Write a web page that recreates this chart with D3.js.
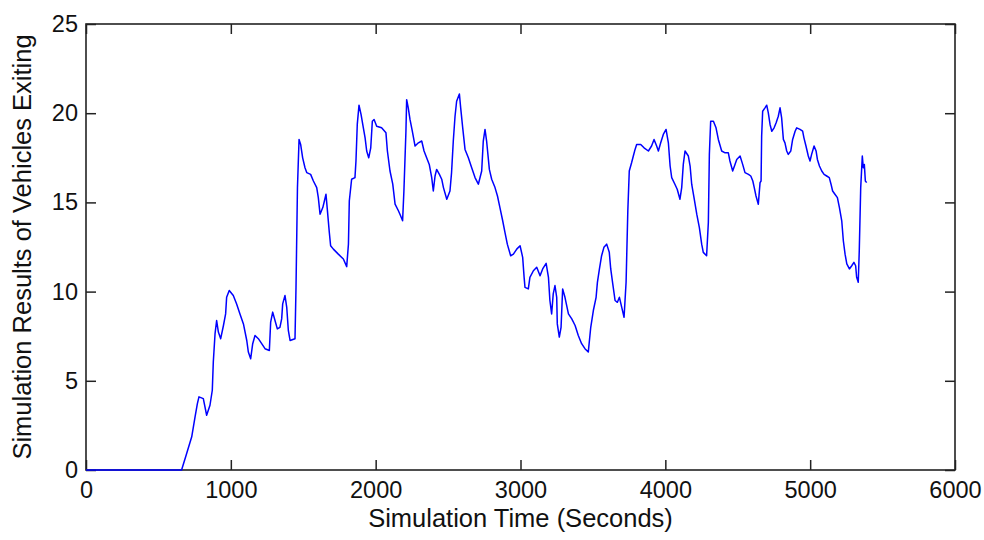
<!DOCTYPE html>
<html>
<head>
<meta charset="utf-8">
<script src="https://cdn.jsdelivr.net/npm/d3@7"></script>
<style>
  body { margin: 0; background: #fff; }
  text { font-family: "Liberation Sans", Arial, sans-serif; fill: #111; }
</style>
</head>
<body>
<svg id="chart" width="984" height="540"></svg>
<script>
// simulation time (s)
var times = [0, 660, 695, 730, 753, 769, 780, 810, 833, 856, 872, 879, 891, 902, 914, 930, 949, 964, 971, 989,
  1017, 1040, 1063, 1087, 1110, 1121, 1137, 1151, 1167, 1190, 1213, 1236, 1266, 1275, 1289, 1305, 1321, 1339, 1351, 1358,
  1374, 1386, 1397, 1409, 1443, 1450, 1460, 1471, 1482, 1496, 1512, 1524, 1551, 1570, 1593, 1604, 1616, 1635, 1646, 1657,
  1666, 1680, 1689, 1708, 1742, 1777, 1800, 1812, 1818, 1834, 1857, 1864, 1873, 1885, 1899, 1915, 1927, 1938, 1952, 1966,
  1977, 1989, 2007, 2041, 2071, 2081, 2099, 2118, 2134, 2157, 2172, 2186, 2195, 2209, 2214, 2225, 2237, 2253, 2272, 2295,
  2318, 2334, 2352, 2370, 2387, 2398, 2410, 2421, 2440, 2456, 2468, 2491, 2513, 2524, 2536, 2548, 2559, 2578, 2587, 2601,
  2617, 2640, 2663, 2686, 2709, 2732, 2743, 2755, 2766, 2785, 2801, 2824, 2841, 2858, 2877, 2893, 2909, 2932, 2951, 2974,
  2997, 3015, 3025, 3031, 3054, 3065, 3089, 3112, 3135, 3153, 3177, 3193, 3203, 3215, 3226, 3238, 3250, 3254, 3268, 3280,
  3291, 3307, 3331, 3354, 3377, 3399, 3422, 3445, 3468, 3485, 3503, 3522, 3531, 3545, 3560, 3576, 3595, 3613, 3623, 3637,
  3653, 3669, 3683, 3699, 3715, 3729, 3741, 3751, 3767, 3779, 3791, 3802, 3830, 3853, 3883, 3905, 3922, 3940, 3952, 3968,
  3986, 4005, 4021, 4033, 4044, 4066, 4082, 4101, 4113, 4124, 4136, 4159, 4171, 4182, 4198, 4217, 4235, 4251, 4262, 4285,
  4297, 4304, 4313, 4332, 4350, 4366, 4389, 4413, 4435, 4446, 4465, 4481, 4493, 4516, 4534, 4550, 4574, 4590, 4604, 4614,
  4626, 4642, 4654, 4661, 4665, 4672, 4688, 4700, 4711, 4723, 4735, 4751, 4765, 4780, 4792, 4803, 4815, 4826, 4838, 4849,
  4866, 4879, 4896, 4907, 4930, 4948, 4957, 4971, 4987, 4999, 5010, 5027, 5041, 5050, 5064, 5080, 5096, 5114, 5132, 5144,
  5155, 5171, 5188, 5202, 5218, 5229, 5241, 5253, 5271, 5287, 5302, 5314, 5321, 5332, 5339, 5349, 5360, 5367, 5374, 5381,
  5390];

// vehicles exiting
var exiting = [0, 0, 0.93, 1.86, 2.98, 3.72, 4.1, 4.0, 3.07, 3.63, 4.47, 6.05, 7.64, 8.38, 7.73, 7.36, 8.1, 8.75, 9.68, 10.06,
  9.78, 9.31, 8.75, 8.19, 7.26, 6.61, 6.24, 7.08, 7.54, 7.36, 7.08, 6.8, 6.7, 8.29, 8.85, 8.38, 7.91, 8.0, 8.47, 9.31,
  9.78, 9.12, 7.82, 7.26, 7.36, 10.24, 15.83, 18.53, 18.25, 17.5, 16.94, 16.67, 16.57, 16.2, 15.83, 15.27, 14.34, 14.71, 15.08, 15.46,
  14.62, 13.31, 12.57, 12.38, 12.1, 11.83, 11.4, 12.66, 15.08, 16.3, 16.39, 17.32, 19.37, 20.45, 19.93, 19.18, 18.62, 17.88, 17.5, 18.06,
  19.55, 19.65, 19.27, 19.18, 18.9, 17.88, 16.76, 16.02, 14.9, 14.53, 14.25, 13.97, 15.64, 18.99, 20.76, 20.3, 19.65, 18.99, 18.16, 18.34,
  18.44, 17.88, 17.5, 17.13, 16.39, 15.64, 16.48, 16.85, 16.57, 16.3, 15.83, 15.18, 15.64, 16.67, 18.44, 19.83, 20.67, 21.08, 20.3, 19.18,
  17.97, 17.5, 16.94, 16.39, 16.02, 16.76, 18.44, 19.09, 18.44, 16.85, 16.3, 15.83, 15.36, 14.71, 13.97, 13.31, 12.66, 12.01, 12.1, 12.38,
  12.57, 11.92, 10.8, 10.24, 10.15, 10.8, 11.17, 11.36, 10.89, 11.27, 11.58, 10.8, 9.5, 8.75, 9.87, 10.34, 9.68, 8.19, 7.45, 8.0,
  10.15, 9.68, 8.75, 8.47, 8.1, 7.54, 7.08, 6.8, 6.61, 8.0, 8.94, 9.68, 10.52, 11.27, 12.01, 12.48, 12.66, 12.2, 11.27, 10.43,
  9.5, 9.4, 9.68, 9.12, 8.56, 10.52, 14.53, 16.76, 17.22, 17.6, 17.97, 18.25, 18.25, 18.06, 17.88, 18.16, 18.53, 18.16, 17.88, 18.34,
  18.81, 19.09, 18.34, 17.04, 16.39, 16.02, 15.74, 15.18, 15.83, 17.13, 17.88, 17.6, 17.04, 16.02, 15.27, 14.34, 13.59, 12.66, 12.2, 12.01,
  13.87, 17.69, 19.55, 19.55, 19.18, 18.53, 17.88, 17.78, 17.78, 17.32, 16.76, 17.13, 17.41, 17.6, 17.13, 16.67, 16.57, 16.48, 16.2, 15.83,
  15.36, 14.9, 16.11, 16.2, 18.72, 20.11, 20.3, 20.45, 20.02, 19.37, 18.99, 19.18, 19.46, 19.83, 20.3, 19.74, 18.53, 18.34, 17.88, 17.69,
  17.88, 18.53, 18.99, 19.18, 19.09, 18.99, 18.62, 18.16, 17.6, 17.32, 17.69, 18.16, 17.88, 17.41, 17.04, 16.76, 16.57, 16.48, 16.39, 16.02,
  15.64, 15.46, 15.27, 14.71, 13.97, 12.85, 12.1, 11.55, 11.27, 11.45, 11.64, 11.45, 10.8, 10.52, 12.29, 15.83, 17.6, 16.94, 17.13, 16.2,
  16.11];

var xTicks = [0, 1000, 2000, 3000, 4000, 5000, 6000];
var yTicks = [0, 5, 10, 15, 20, 25];

var mLeft = 86, mRight = 955, mTop = 24, mBottom = 470;
var svg = d3.select("#chart");

var x = d3.scaleLinear().domain([0, 6000]).range([mLeft, mRight]);
var y = d3.scaleLinear().domain([0, 25]).range([mBottom, mTop]);

/* axes, ticks pointing inward like matlab */
svg.append("g")
  .attr("transform", "translate(0," + mBottom + ")")
  .call(d3.axisBottom(x).tickValues(xTicks).tickSize(-10).tickPadding(11).tickFormat(d3.format("d")))
  .call(g => g.select(".domain").remove());

svg.append("g")
  .attr("transform", "translate(0," + mTop + ")")
  .call(d3.axisTop(x).tickValues(xTicks).tickSize(-10).tickFormat(""))
  .call(g => g.select(".domain").remove());

svg.append("g")
  .attr("transform", "translate(" + mLeft + ",0)")
  .call(d3.axisLeft(y).tickValues(yTicks).tickSize(-10).tickPadding(8))
  .call(g => g.select(".domain").remove());

svg.append("g")
  .attr("transform", "translate(" + mRight + ",0)")
  .call(d3.axisRight(y).tickValues(yTicks).tickSize(-10).tickFormat(""))
  .call(g => g.select(".domain").remove());

svg.selectAll(".tick line").attr("stroke", "#222").attr("stroke-width", 1.5);
svg.selectAll(".tick text")
  .style("font-family", "'Liberation Sans', Arial, sans-serif")
  .style("font-size", "23.5px")
  .attr("fill", "#111");

svg.append("rect")
  .attr("x", mLeft).attr("y", mTop)
  .attr("width", mRight - mLeft).attr("height", mBottom - mTop)
  .attr("fill", "none")
  .attr("stroke", "#222")
  .attr("stroke-width", 1.6);

// the data line
var line = d3.line()
  .x((d, i) => x(times[i]))
  .y(d => y(d));

svg.append("path")
  .attr("d", line(exiting))
  .attr("fill", "none")
  .attr("stroke", "#0000ff")
  .attr("stroke-width", 1.5)
  .attr("stroke-linejoin", "round");

// axis titles
svg.append("text")
  .attr("x", (mLeft + mRight) / 2)
  .attr("y", 527)
  .attr("text-anchor", "middle")
  .style("font-size", "25.5px")
  .text("Simulation Time (Seconds)");

svg.append("text")
  .attr("transform", "translate(31," + ((mTop + mBottom) / 2) + ") rotate(-90)")
  .attr("text-anchor", "middle")
  .style("font-size", "25.5px")
  .text("Simulation Results of Vehicles Exiting");
</script>
</body>
</html>
